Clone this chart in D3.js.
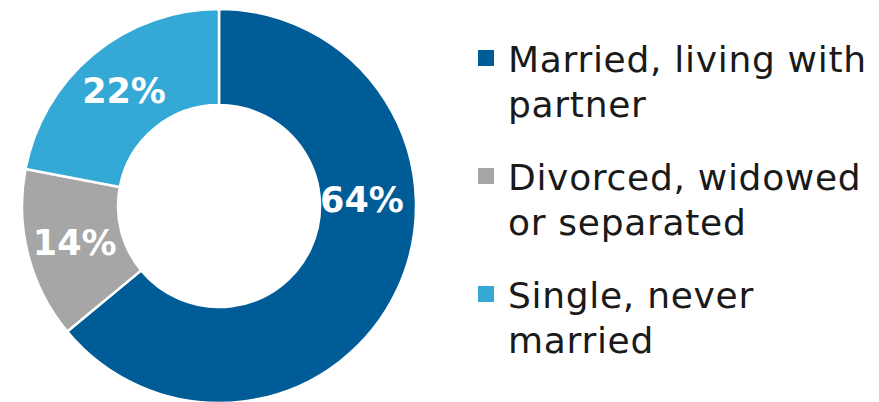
<!DOCTYPE html>
<html>
<head>
<meta charset="utf-8">
<script src="https://cdn.jsdelivr.net/npm/d3@7"></script>
<style>
  body { margin: 0; background: #fff; }
  text { font-family: "DejaVu Sans", sans-serif; }
</style>
</head>
<body>
<script>
let categories = ["Married, living with partner", "Divorced, widowed or separated", "Single, never married"];
let legendLines = [["Married, living with", "partner"], ["Divorced, widowed", "or separated"], ["Single, never", "married"]];
let values = [64, 14, 22];
let colors = ["#005c97", "#a6a6a6", "#35a9d5"];

let width = 879;
let height = 402;
let svg = d3.select("body").append("svg")
                           .attr("width", width)
                           .attr("height", height);

let cx = 219;
let cy = 206;
let outerR = 197;
let innerR = 101;

let pie = d3.pie().sort(null).value(function(d) { return d; });
let arcs = pie(values);
let arc = d3.arc().innerRadius(innerR).outerRadius(outerR);
let labelR = (innerR + outerR) / 2;

let g = svg.append("g").attr("transform", "translate(" + cx + "," + cy + ")");

g.selectAll("path")
 .data(arcs)
 .enter().append("path")
 .attr("d", arc)
 .attr("fill", function(d, i) { return colors[i]; })
 .attr("stroke", "#fff")
 .attr("stroke-width", 2.5);

// big slice label sits on the horizontal, the rest at the centroid
g.selectAll("text.pct")
 .data(arcs)
 .enter().append("text")
 .attr("class", "pct")
 .attr("x", function(d) {
   if (d.endAngle - d.startAngle > Math.PI) return labelR - 6;
   return arc.innerRadius(labelR).outerRadius(labelR).centroid(d)[0];
 })
 .attr("y", function(d) {
   if (d.endAngle - d.startAngle > Math.PI) return -6;
   return arc.innerRadius(labelR).outerRadius(labelR).centroid(d)[1];
 })
 .attr("text-anchor", "middle")
 .attr("dominant-baseline", "central")
 .attr("fill", "#fff")
 .attr("font-weight", "bold")
 .attr("font-size", 35)
 .text(function(d) { return d.value + "%"; });

let legend = svg.append("g").attr("transform", "translate(478,0)");
let item = legend.selectAll("g")
 .data(categories)
 .enter().append("g")
 .attr("transform", function(d, i) { return "translate(0," + (72 + i * 118) + ")"; });

item.append("rect")
    .attr("x", 0)
    .attr("y", -22)
    .attr("width", 16)
    .attr("height", 16)
    .attr("fill", function(d, i) { return colors[i]; });

item.each(function(d, i) {
  let t = d3.select(this).append("text")
            .attr("x", 30)
            .attr("font-size", 36)
            .attr("letter-spacing", 0.7)
            .attr("fill", "#1a1a1a");
  legendLines[i].forEach(function(line, j) {
    t.append("tspan").attr("x", 30).attr("y", j * 45).text(line);
  });
});
</script>
</body>
</html>
